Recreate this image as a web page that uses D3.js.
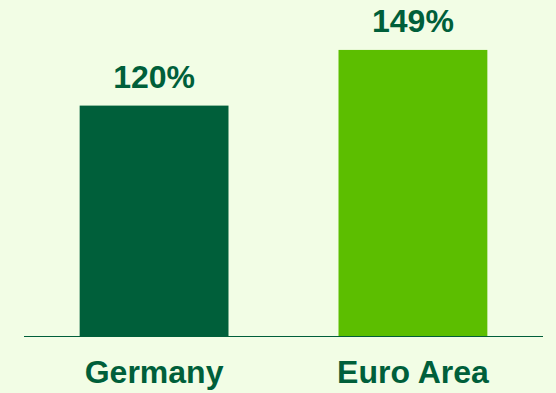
<!DOCTYPE html>
<html>
<head>
<meta charset="utf-8">
<script src="https://cdn.jsdelivr.net/npm/d3@7"></script>
<style>
  html, body { margin: 0; padding: 0; background: #f2fde5; }
  svg { display: block; }
</style>
</head>
<body>
<svg id="chart" width="556" height="393"></svg>
<script>
// Debt-to-GDP style comparison: two regions, one value each
const categories = ["Germany", "Euro Area"];
const values = [120, 149];
const valueLabels = ["120%", "149%"];
const barColors = ["#005f3a", "#5cbe00"];

const W = 556, H = 393;
const svg = d3.select("#chart");

svg.append("rect").attr("width", W).attr("height", H).attr("fill", "#f2fde5");

const x = d3.scaleBand()
  .domain(categories)
  .range([24, 543])
  .paddingInner(0.425)
  .paddingOuter(0.215);

const y = d3.scaleLinear()
  .domain([0, 175])
  .range([336, 0]);

const textColor = "#005f3a";
const font = "'Liberation Sans', Arial, sans-serif";

// bars
svg.selectAll("rect.bar")
  .data(categories)
  .join("rect")
  .attr("class", "bar")
  .attr("x", d => x(d))
  .attr("width", x.bandwidth())
  .attr("y", (d, i) => y(values[i]))
  .attr("height", (d, i) => y(0) - y(values[i]))
  .attr("fill", (d, i) => barColors[i]);

// baseline
svg.append("line")
  .attr("x1", 24).attr("x2", 543)
  .attr("y1", y(0) + 0.5).attr("y2", y(0) + 0.5)
  .attr("stroke", "#005f3a")
  .attr("stroke-width", 1);

// value labels above bars
svg.selectAll("text.val")
  .data(categories)
  .join("text")
  .attr("class", "val")
  .attr("x", d => x(d) + x.bandwidth() / 2)
  .attr("y", (d, i) => y(values[i]) - 18)
  .attr("text-anchor", "middle")
  .attr("font-family", font)
  .attr("font-weight", "bold")
  .attr("font-size", 32)
  .attr("fill", textColor)
  .text((d, i) => valueLabels[i]);

// category labels
svg.selectAll("text.cat")
  .data(categories)
  .join("text")
  .attr("class", "cat")
  .attr("x", d => x(d) + x.bandwidth() / 2)
  .attr("y", 383)
  .attr("text-anchor", "middle")
  .attr("font-family", font)
  .attr("font-weight", "bold")
  .attr("font-size", 32)
  .attr("fill", textColor)
  .text(d => d);
</script>
</body>
</html>
